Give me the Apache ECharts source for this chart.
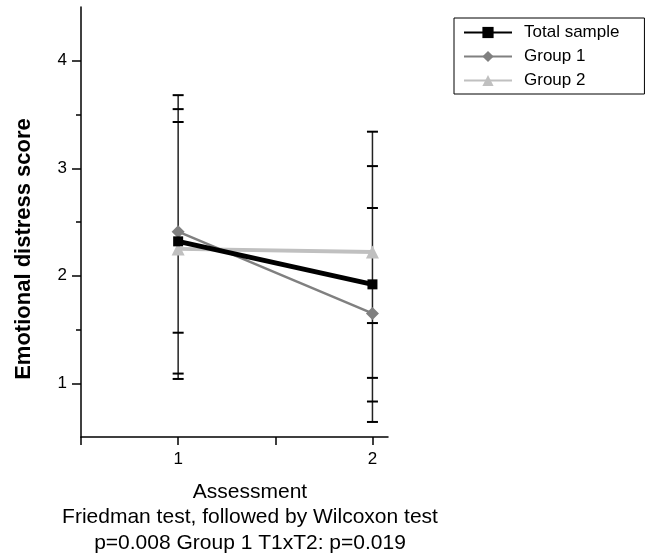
<!DOCTYPE html>
<html>
<head>
<meta charset="utf-8">
<script src="https://cdn.jsdelivr.net/npm/echarts@6/dist/echarts.min.js"></script>
<style>
html,body{margin:0;padding:0;background:#fff;}
#chart{width:646px;height:557px;}
</style>
</head>
<body>
<div id="chart"></div>
<script>
// ---- data ----
var assessments = [1, 2];
var seriesNames = ['Total sample', 'Group 1', 'Group 2'];
var totalSample = [2.32, 1.92];
var group1 = [2.41, 1.65];
var group2 = [2.25, 2.22];
// error-bar cap values read at each assessment
var capsAt1 = [3.68, 3.55, 3.43, 1.47, 1.09, 1.04];
var capsAt2 = [3.34, 3.02, 2.63, 1.56, 1.05, 0.83, 0.64];
// axis ticks / labels
var yMajorTicks = [1, 2, 3, 4];
var yMinorTicks = [1.5, 2.5, 3.5];
var xTicks = [0.5, 1, 1.5, 2];
var xTickLabels = [1, 2];
var xTitle = 'Assessment';
var yTitle = 'Emotional distress score';
var noteLine1 = 'Friedman test, followed by Wilcoxon test';
var noteLine2 = 'p=0.008 Group 1 T1xT2: p=0.019';

var FONT = 'Liberation Sans, Arial, sans-serif';
var chart = echarts.init(document.getElementById('chart'));

function pairs(vals) { return assessments.map(function (x, i) { return [x, vals[i]]; }); }

var errGroups = [capsAt1, capsAt2];
var errData = assessments.map(function (x, i) { return [x, Math.min.apply(null, errGroups[i]), Math.max.apply(null, errGroups[i])]; });

var axisLineStyle = { color: '#000', width: 1.5 };

var option = {
  backgroundColor: '#fff',
  animation: false,
  grid: { left: 81, right: 258, top: 7, bottom: 120 },
  xAxis: {
    type: 'value', min: 0.5, max: 2.08,
    splitLine: { show: false },
    axisLine: { show: true, onZero: false, lineStyle: axisLineStyle },
    axisTick: { show: true, inside: false, length: 8, customValues: xTicks, lineStyle: axisLineStyle },
    axisLabel: {
      color: '#000', fontFamily: FONT, fontSize: 17, margin: 14,
      customValues: xTickLabels
    }
  },
  yAxis: [{
    type: 'value', min: 0.5, max: 4.5,
    splitLine: { show: false },
    axisLine: { show: true, onZero: false, lineStyle: axisLineStyle },
    axisTick: { show: true, inside: false, length: 9, customValues: yMajorTicks, lineStyle: axisLineStyle },
    axisLabel: {
      color: '#000', fontFamily: FONT, fontSize: 17, margin: 14,
      customValues: yMajorTicks
    }
  }, {
    type: 'value', min: 0.5, max: 4.5, position: 'left',
    splitLine: { show: false },
    axisLine: { show: false },
    axisTick: { show: true, inside: false, length: 5, customValues: yMinorTicks, lineStyle: axisLineStyle },
    axisLabel: { show: false }
  }],
  legend: {
    left: 454, top: 18, orient: 'vertical',
    data: seriesNames,
    itemWidth: 48, itemHeight: 14, itemGap: 7,
    padding: [6, 25, 5, 9],
    borderColor: '#000', borderWidth: 1,
    textStyle: { color: '#000', fontFamily: FONT, fontSize: 17, padding: [0, 0, 0, 7] }
  },
  series: [
    {
      type: 'custom', name: 'err', silent: true, z: 1,
      data: errData,
      renderItem: function (params, api) {
        var x = api.value(0);
        var caps = errGroups[params.dataIndex];
        var pLo = api.coord([x, api.value(1)]), pHi = api.coord([x, api.value(2)]);
        var children = [{
          type: 'line', shape: { x1: pLo[0], y1: pLo[1], x2: pHi[0], y2: pHi[1] },
          style: { stroke: '#222', lineWidth: 1.5 }
        }];
        caps.forEach(function (c) {
          var p = api.coord([x, c]);
          children.push({
            type: 'line', shape: { x1: p[0] - 5.5, y1: p[1], x2: p[0] + 5.5, y2: p[1] },
            style: { stroke: '#000', lineWidth: 2 }
          });
        });
        return { type: 'group', children: children };
      }
    },
    {
      type: 'line', name: 'Group 2', data: pairs(group2), z: 3,
      symbol: 'triangle', symbolSize: 13,
      lineStyle: { color: '#c0c0c0', width: 4 },
      itemStyle: { color: '#c0c0c0' }
    },
    {
      type: 'line', name: 'Group 1', data: pairs(group1), z: 4,
      symbol: 'diamond', symbolSize: 13,
      lineStyle: { color: '#808080', width: 2.5 },
      itemStyle: { color: '#808080' }
    },
    {
      type: 'line', name: 'Total sample', data: pairs(totalSample), z: 5,
      symbol: 'rect', symbolSize: 10,
      lineStyle: { color: '#000', width: 5 },
      itemStyle: { color: '#000' }
    }
  ],
  graphic: [
    { type: 'text', x: 24, y: 249, rotation: Math.PI / 2,
      style: { text: yTitle, fill: '#000', font: 'bold 22px ' + FONT, textAlign: 'center', textVerticalAlign: 'middle' } },
    { type: 'text', x: 250, y: 492,
      style: { text: xTitle, fill: '#000', font: '21px ' + FONT, textAlign: 'center', textVerticalAlign: 'middle' } },
    { type: 'text', x: 250, y: 517,
      style: { text: noteLine1, fill: '#000', font: '21px ' + FONT, textAlign: 'center', textVerticalAlign: 'middle' } },
    { type: 'text', x: 250, y: 543,
      style: { text: noteLine2, fill: '#000', font: '21px ' + FONT, textAlign: 'center', textVerticalAlign: 'middle' } }
  ]
};
chart.setOption(option);
</script>
</body>
</html>
